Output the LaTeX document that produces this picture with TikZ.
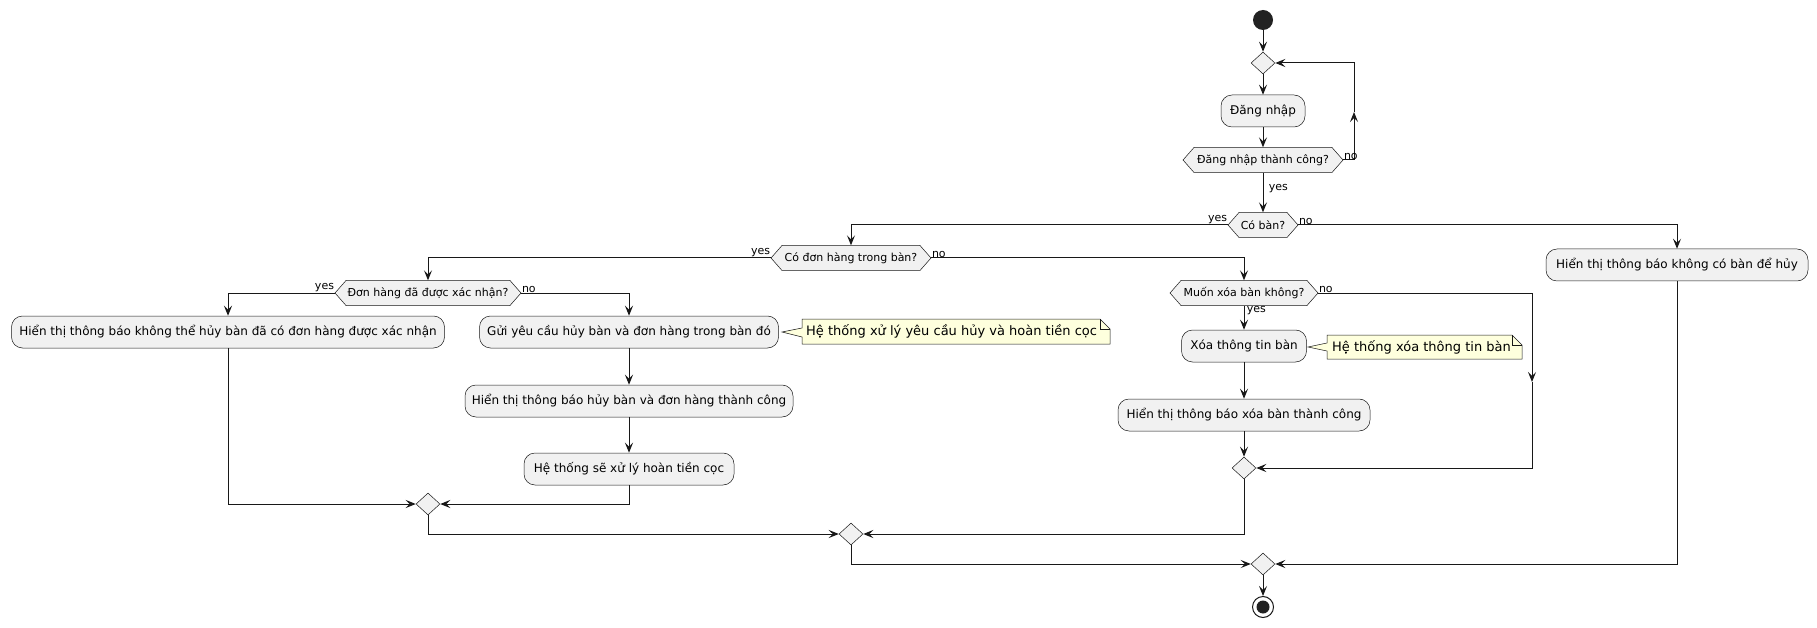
\documentclass[tikz,border=0pt]{standalone}
\usepackage{fontspec}
\setmainfont{DejaVu Sans}
\usetikzlibrary{arrows.meta,shapes.geometric}
\definecolor{umlline}{HTML}{181818}
\definecolor{umlfill}{HTML}{F1F1F1}
\definecolor{notefill}{HTML}{FEFFDD}
\definecolor{startfill}{HTML}{222222}

\tikzset{
  act/.style={draw=umlline, fill=umlfill, line width=0.5pt, rounded corners=11pt,
    minimum height=32pt, inner sep=0pt, font=\fontsize{12}{14}\selectfont},
  merge/.style={diamond, draw=umlline, fill=umlfill, line width=0.5pt,
    minimum width=24pt, minimum height=22pt, inner sep=0pt},
  dectext/.style={inner sep=0pt, minimum height=25pt, font=\fontsize{11}{13}\selectfont},
  hexa/.style={draw=umlline, fill=umlfill, line width=0.5pt},
  flow/.style={draw=umlline, line width=1pt, -{Stealth[length=10pt,width=8pt,inset=4pt]}},
  lbl/.style={inner sep=0.6pt, font=\fontsize{11}{13}\selectfont},
  notebody/.style={draw=umlline, fill=notefill, line width=0.5pt},
  notetext/.style={inner sep=0pt, anchor=west, font=\fontsize{13}{15}\selectfont},
}

% decision hexagon: name, centre x, centre y, half width, text
\newcommand\hexdecision[5]{%
  \path[hexa] (#2-#4,#3) -- (#2-#4+11,#3-12.5) -- (#2+#4-11,#3-12.5) -- (#2+#4,#3)
    -- (#2+#4-11,#3+12.5) -- (#2-#4+11,#3+12.5) -- cycle;
  \node[dectext, minimum width=2*#4] (#1) at (#2,#3) {#5};
}

\begin{document}
\begin{tikzpicture}[x=1pt, y=-1pt]
\useasboundingbox[fill=white] (0,0) rectangle (1817,628);

% start, login loop
\node[circle, fill=startfill, minimum size=20pt, inner sep=0pt] (start) at (1263,20) {};
\node[merge] (d1) at (1263,63) {};
\node[act, minimum width=84pt] (login) at (1263,111) {Đăng nhập};
\hexdecision{dec1}{1263}{160}{80}{Đăng nhập thành công?}
\hexdecision{cob}{1263}{225}{35}{Có bàn?}

% table exists branch
\hexdecision{cdh}{851}{258}{80}{Có đơn hàng trong bàn?}
\hexdecision{dhx}{428}{293}{93}{Đơn hàng đã được xác nhận?}
\hexdecision{muon}{1244}{293}{74}{Muốn xóa bàn không?}

\node[act, minimum width=433pt] (khongthe) at (228,332)
  {Hiển thị thông báo không thể hủy bàn đã có đơn hàng được xác nhận};
\node[act, minimum width=299pt] (gui) at (629,332)
  {Gửi yêu cầu hủy bàn và đơn hàng trong bàn đó};
\node[act, minimum width=328pt] (hienhuy) at (629,401)
  {Hiển thị thông báo hủy bàn và đơn hàng thành công};
\node[act, minimum width=210pt] (hethong) at (629,469)
  {Hệ thống sẽ xử lý hoàn tiền cọc};

\node[act, minimum width=125pt] (xoa) at (1244,346) {Xóa thông tin bàn};
\node[act, minimum width=252pt] (hienxoa) at (1244,415)
  {Hiển thị thông báo xóa bàn thành công};

% no table branch
\node[act, minimum width=262pt] (nocoban) at (1677,265)
  {Hiển thị thông báo không có bàn để hủy};

% notes
\path[notebody] (802,319) -- (1100,319) -- (1110,329) -- (1110,344) -- (802,344)
  -- (802,337) -- (782,332) -- (802,328) -- cycle;
\draw[umlline, line width=0.5pt] (1100,319) -- (1100,329) -- (1110,329);
\node[notetext] (note1) at (806,331.5) {Hệ thống xử lý yêu cầu hủy và hoàn tiền cọc};

\path[notebody] (1327,335) -- (1512,335) -- (1522,345) -- (1522,359) -- (1327,359)
  -- (1327,351) -- (1308,347) -- (1327,343) -- cycle;
\draw[umlline, line width=0.5pt] (1512,335) -- (1512,345) -- (1522,345);
\node[notetext] (note2) at (1332,347) {Hệ thống xóa thông tin bàn};

% merges and end
\node[merge] (mA) at (428,504) {};
\node[merge] (mB) at (1244,468) {};
\node[merge] (mC) at (851,534) {};
\node[merge] (mD) at (1263,564) {};
\node[circle, draw=umlline, line width=1pt, fill=white, minimum size=21pt, inner sep=0pt] (stop) at (1263,607) {};
\fill[startfill] (stop.center) circle (6.5pt);

% connectors
\draw[flow] (start) -- (d1);
\draw[flow] (d1) -- (login);
\draw[flow] (login) -- (dec1);
\draw[flow] (dec1) -- (cob);
\coordinate (loopmid) at (1354,112);
\draw[flow] (dec1.east) -| (loopmid);
\draw[flow] (loopmid) |- (d1.east);

\draw[flow] (cob.west) -| (cdh.north);
\draw[flow] (cob.east) -| (nocoban.north);
\draw[flow] (cdh.west) -| (dhx.north);
\draw[flow] (cdh.east) -| (muon.north);
\draw[flow] (dhx.west) -| (khongthe.north);
\draw[flow] (dhx.east) -| (gui.north);
\draw[flow] (gui) -- (hienhuy);
\draw[flow] (hienhuy) -- (hethong);
\draw[flow] (khongthe.south) |- (mA.west);
\draw[flow] (hethong.south) |- (mA.east);

\draw[flow] (muon) -- (xoa);
\draw[flow] (xoa) -- (hienxoa);
\draw[flow] (hienxoa) -- (mB);
\coordinate (nomid) at (1532,382);
\draw[flow] (muon.east) -| (nomid);
\draw[flow] (nomid) |- (mB.east);

\draw[flow] (mA.south) |- (mC.west);
\draw[flow] (mB.south) |- (mC.east);
\draw[flow] (mC.south) |- (mD.west);
\draw[flow] (nocoban.south) |- (mD.east);
\draw[flow] (mD) -- (stop);

% branch labels
\node[lbl, anchor=south west] (l1) at (dec1.east) {no};
\node[lbl, anchor=west] (l2) at (1268,189) {yes};
\node[lbl, anchor=south east] (l3) at (cob.west) {yes};
\node[lbl, anchor=south west] (l4) at (cob.east) {no};
\node[lbl, anchor=south east] (l5) at (cdh.west) {yes};
\node[lbl, anchor=south west] (l6) at (cdh.east) {no};
\node[lbl, anchor=south east] (l7) at (dhx.west) {yes};
\node[lbl, anchor=south west] (l8) at (dhx.east) {no};
\node[lbl, anchor=south west] (l9) at (muon.east) {no};
\node[lbl, anchor=north west] (l10) at ([xshift=2pt]muon.south) {yes};
\end{tikzpicture}
\end{document}
